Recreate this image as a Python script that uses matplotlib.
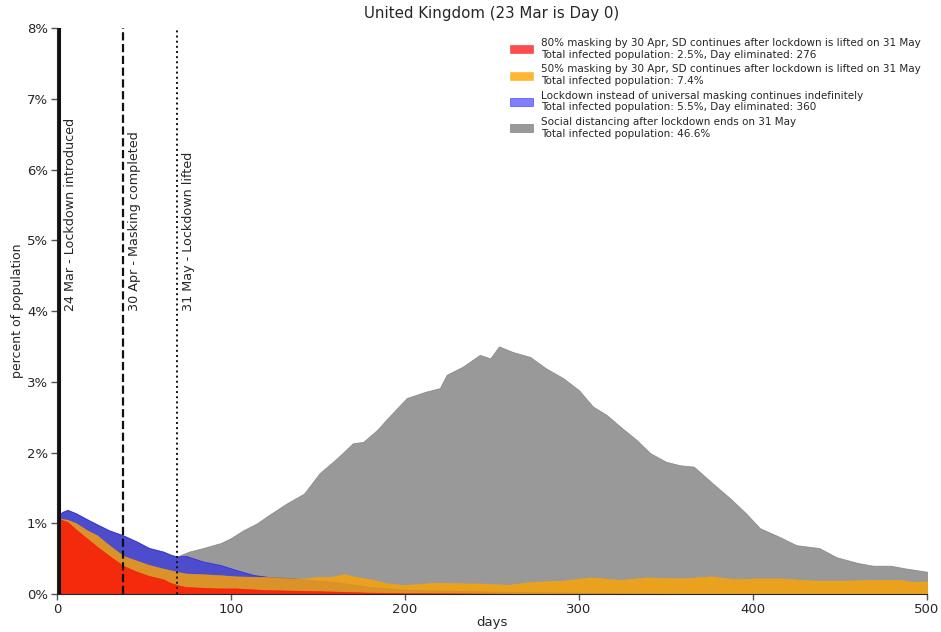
import numpy as np
import matplotlib
matplotlib.use("Agg")
import matplotlib.pyplot as plt
from matplotlib.ticker import FuncFormatter

# ---- data (percent of population) ----
early_days = [0, 3, 6, 11, 17, 23, 30, 38, 46, 53, 61, 66, 69]
early_lockdown = [1.10, 1.16, 1.19, 1.14, 1.06, 0.985, 0.90, 0.83, 0.74, 0.65, 0.60, 0.55, 0.53]

sd_days = early_days + [72, 76, 84, 94, 100, 107, 115, 122, 132, 142, 151, 161, 170, 176, 184,
                        191, 201, 212, 220, 224, 233, 243, 249, 254, 262, 272, 281, 291, 300,
                        308, 316, 324, 333, 341, 350, 358, 366, 377, 387, 396, 404, 415, 425,
                        438, 448, 460, 469, 479, 488, 500]
sd_vals = early_lockdown + [0.56, 0.60, 0.65, 0.72, 0.79, 0.90, 1.00, 1.12, 1.28, 1.42, 1.71, 1.92,
                            2.13, 2.15, 2.32, 2.51, 2.77, 2.86, 2.91, 3.10, 3.21, 3.38, 3.33, 3.50,
                            3.42, 3.35, 3.19, 3.05, 2.88, 2.65, 2.53, 2.36, 2.18, 1.99, 1.87, 1.82,
                            1.80, 1.56, 1.35, 1.14, 0.93, 0.81, 0.69, 0.65, 0.52, 0.44, 0.40, 0.40,
                            0.36, 0.315]

lock_days = early_days + [74, 84, 94, 103, 113, 122, 136, 145, 160, 180, 200, 230, 260, 300, 330,
                          360, 500]
lock_vals = early_lockdown + [0.54, 0.46, 0.41, 0.34, 0.27, 0.24, 0.22, 0.20, 0.17, 0.10, 0.06,
                              0.045, 0.03, 0.02, 0.01, 0.0, 0.0]

m50_days = [0, 6, 11, 17, 23, 30, 38, 46, 53, 61, 69, 74, 84, 92, 103, 111, 122, 136, 142, 149,
            157, 165, 172, 180, 190, 199, 218, 237, 243, 259, 272, 291, 307, 324, 339, 359, 376,
            389, 402, 416, 435, 454, 469, 485, 492, 500]
m50_vals = [1.07, 1.05, 1.00, 0.905, 0.83, 0.69, 0.54, 0.47, 0.41, 0.36, 0.315, 0.29, 0.28, 0.27,
            0.25, 0.245, 0.24, 0.22, 0.22, 0.24, 0.24, 0.28, 0.24, 0.21, 0.15, 0.127, 0.16, 0.15,
            0.15, 0.13, 0.17, 0.19, 0.235, 0.20, 0.235, 0.22, 0.25, 0.21, 0.22, 0.22, 0.19, 0.19,
            0.20, 0.20, 0.17, 0.18]

m80_days = [0, 6, 11, 17, 23, 30, 38, 46, 53, 61, 65, 69, 74, 92, 103, 120, 142, 160, 180, 200,
            240, 276, 500]
m80_vals = [1.07, 1.02, 0.91, 0.79, 0.67, 0.54, 0.40, 0.315, 0.255, 0.21, 0.16, 0.127, 0.10, 0.08,
            0.08, 0.056, 0.045, 0.035, 0.02, 0.015, 0.008, 0.0, 0.0]

labels = [
    "80% masking by 30 Apr, SD continues after lockdown is lifted on 31 May\n"
    "Total infected population: 2.5%, Day eliminated: 276",
    "50% masking by 30 Apr, SD continues after lockdown is lifted on 31 May\n"
    "Total infected population: 7.4%",
    "Lockdown instead of universal masking continues indefinitely\n"
    "Total infected population: 5.5%, Day eliminated: 360",
    "Social distancing after lockdown ends on 31 May\n"
    "Total infected population: 46.6%",
]

events = [(1, "24 Mar - Lockdown introduced", "-"),
          (38, "30 Apr - Masking completed", "--"),
          (69, "31 May - Lockdown lifted", ":")]

# ---- plot ----
fig = plt.figure(figsize=(9.41, 6.32), dpi=100)
ax = fig.add_axes([0.0606, 0.0601, 0.9245, 0.8956])
tc = "#262626"

h_sd = ax.fill_between(sd_days, 0, sd_vals, color="gray", alpha=0.8, lw=0.6, label=labels[3])
h_lk = ax.fill_between(lock_days, 0, lock_vals, color="blue", alpha=0.5, lw=0.6, label=labels[2])
h_50 = ax.fill_between(m50_days, 0, m50_vals, color="orange", alpha=0.8, lw=0.4, label=labels[1])
h_80 = ax.fill_between(m80_days, 0, m80_vals, color="red", alpha=0.7, lw=0.4, label=labels[0])

lws = {"-": 2.2, "--": 1.6, ":": 1.4}
for d, txt, ls in events:
    ax.axvline(d, color="#111111", ls=ls, lw=lws[ls], zorder=5)
    ax.text(d + 2.8, 4.0, txt, rotation=90, ha="left", va="bottom", fontsize=9.2, color=tc)

ax.set_xlim(0, 500)
ax.set_ylim(0, 8)
ax.set_xticks([0, 100, 200, 300, 400, 500])
ax.set_yticks(range(0, 9))
ax.yaxis.set_major_formatter(FuncFormatter(lambda v, p: f"{int(v)}%"))
ax.tick_params(labelsize=9.5, colors="#555555", labelcolor=tc, length=4, width=1, pad=2.5)
for s in ["top", "right"]:
    ax.spines[s].set_visible(False)
for s in ["left", "bottom"]:
    ax.spines[s].set_color(tc)

ax.set_xlabel("days", fontsize=9.5, color=tc, labelpad=0)
ax.set_ylabel("percent of population", fontsize=9, color=tc, labelpad=2)
ax.set_title("United Kingdom (23 Mar is Day 0)", fontsize=10.8, color=tc, pad=7)

leg = ax.legend(handles=[h_80, h_50, h_lk, h_sd], loc="upper right", bbox_to_anchor=(1.0, 0.993),
                fontsize=7.5, frameon=False, handlelength=2.2, handleheight=0.8,
                labelspacing=0.45, handletextpad=0.8, borderaxespad=0.2)
for t in leg.get_texts():
    t.set_color(tc)

fig.savefig("out.png", dpi=100)
